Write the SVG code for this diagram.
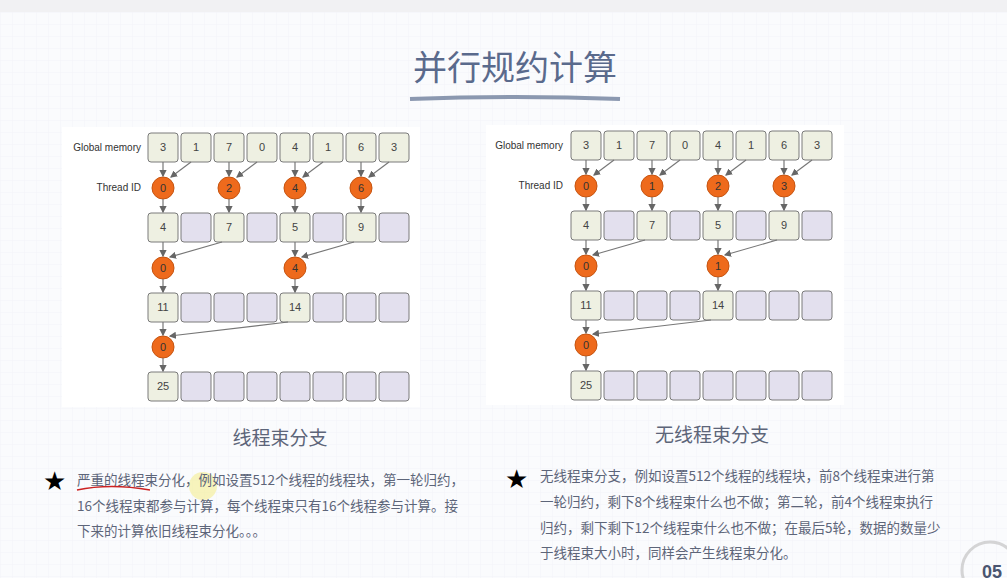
<svg xmlns="http://www.w3.org/2000/svg" width="1007" height="578" viewBox="0 0 1007 578">
<style>
.f{fill:#eef0e2;stroke:#7a7a7a;stroke-width:1}
.e{fill:#e3e0ee;stroke:#7a7a7a;stroke-width:1}
.n{font-family:"Liberation Sans",sans-serif;font-size:11px;fill:#444;text-anchor:middle}
.c{fill:#ee6a1c;stroke:#c65410;stroke-width:1}
.cn{font-family:"Liberation Sans",sans-serif;font-size:11px;fill:#333;text-anchor:middle}
.lb{font-family:"Liberation Sans",sans-serif;font-size:10px;fill:#333;text-anchor:end}
.a{stroke:#777;stroke-width:1.2;fill:none;marker-end:url(#ar)}
.t{font-family:"Noto Sans CJK SC",sans-serif;fill:#5d6579}
</style>
<defs>
<marker id="ar" markerWidth="6" markerHeight="6" refX="5" refY="3" orient="auto"><path d="M0,0L6,3L0,6z" fill="#666"/></marker>
<pattern id="g" width="12" height="12" patternUnits="userSpaceOnUse"><path d="M12 0H0V12" fill="none" stroke="#eceef3" stroke-width="0.6"/></pattern>
</defs>
<rect width="1007" height="578" fill="#fafbfd"/>
<rect width="1007" height="578" fill="url(#g)"/>
<rect x="0" y="0" width="1007" height="12" fill="#f1f1f3"/>
<text x="515" y="80" class="t" font-size="34" text-anchor="middle" fill="#5a6a8c" style="fill:#5a6a8c">并行规约计算</text>
<path d="M410 99Q515 95 620 99" stroke="#6f7f9c" stroke-width="4" fill="none" opacity="0.8"/>
<rect x="62" y="127" width="358" height="280" fill="#fff"/>
<rect x="486" y="125" width="358" height="280" fill="#fff"/>
<g id="left">
<text x="141" y="151" class="lb">Global memory</text>
<text x="141" y="191" class="lb">Thread ID</text>
<g id="L-row0">
<rect x="148" y="133" width="30" height="29" rx="3" class="f"/><text x="163" y="151" class="n">3</text>
<rect x="181" y="133" width="30" height="29" rx="3" class="f"/><text x="196" y="151" class="n">1</text>
<rect x="214" y="133" width="30" height="29" rx="3" class="f"/><text x="229" y="151" class="n">7</text>
<rect x="247" y="133" width="30" height="29" rx="3" class="f"/><text x="262" y="151" class="n">0</text>
<rect x="280" y="133" width="30" height="29" rx="3" class="f"/><text x="295" y="151" class="n">4</text>
<rect x="313" y="133" width="30" height="29" rx="3" class="f"/><text x="328" y="151" class="n">1</text>
<rect x="346" y="133" width="30" height="29" rx="3" class="f"/><text x="361" y="151" class="n">6</text>
<rect x="379" y="133" width="30" height="29" rx="3" class="f"/><text x="394" y="151" class="n">3</text>
</g>
<g id="L-row1">
<rect x="148" y="213" width="30" height="29" rx="3" class="f"/><text x="163" y="231" class="n">4</text>
<rect x="181" y="213" width="30" height="29" rx="3" class="e"/>
<rect x="214" y="213" width="30" height="29" rx="3" class="f"/><text x="229" y="231" class="n">7</text>
<rect x="247" y="213" width="30" height="29" rx="3" class="e"/>
<rect x="280" y="213" width="30" height="29" rx="3" class="f"/><text x="295" y="231" class="n">5</text>
<rect x="313" y="213" width="30" height="29" rx="3" class="e"/>
<rect x="346" y="213" width="30" height="29" rx="3" class="f"/><text x="361" y="231" class="n">9</text>
<rect x="379" y="213" width="30" height="29" rx="3" class="e"/>
</g>
<g id="L-row2">
<rect x="148" y="293" width="30" height="29" rx="3" class="f"/><text x="163" y="311" class="n">11</text>
<rect x="181" y="293" width="30" height="29" rx="3" class="e"/>
<rect x="214" y="293" width="30" height="29" rx="3" class="e"/>
<rect x="247" y="293" width="30" height="29" rx="3" class="e"/>
<rect x="280" y="293" width="30" height="29" rx="3" class="f"/><text x="295" y="311" class="n">14</text>
<rect x="313" y="293" width="30" height="29" rx="3" class="e"/>
<rect x="346" y="293" width="30" height="29" rx="3" class="e"/>
<rect x="379" y="293" width="30" height="29" rx="3" class="e"/>
</g>
<g id="L-row3">
<rect x="148" y="372" width="30" height="29" rx="3" class="f"/><text x="163" y="390" class="n">25</text>
<rect x="181" y="372" width="30" height="29" rx="3" class="e"/>
<rect x="214" y="372" width="30" height="29" rx="3" class="e"/>
<rect x="247" y="372" width="30" height="29" rx="3" class="e"/>
<rect x="280" y="372" width="30" height="29" rx="3" class="e"/>
<rect x="313" y="372" width="30" height="29" rx="3" class="e"/>
<rect x="346" y="372" width="30" height="29" rx="3" class="e"/>
<rect x="379" y="372" width="30" height="29" rx="3" class="e"/>
</g>
<g id="L-threads">
<circle cx="163" cy="188" r="11" class="c"/><text x="163" y="192" class="cn">0</text>
<circle cx="229" cy="188" r="11" class="c"/><text x="229" y="192" class="cn">2</text>
<circle cx="295" cy="188" r="11" class="c"/><text x="295" y="192" class="cn">4</text>
<circle cx="361" cy="188" r="11" class="c"/><text x="361" y="192" class="cn">6</text>
<circle cx="163" cy="268" r="11" class="c"/><text x="163" y="272" class="cn">0</text>
<circle cx="295" cy="268" r="11" class="c"/><text x="295" y="272" class="cn">4</text>
<circle cx="163" cy="347" r="11" class="c"/><text x="163" y="351" class="cn">0</text>
</g>
</g>
<g id="left-connectors">
<path class="a" d="M163 162V176"/><path class="a" d="M191 162L171 177"/>
<path class="a" d="M229 162V176"/><path class="a" d="M257 162L237 177"/>
<path class="a" d="M295 162V176"/><path class="a" d="M323 162L303 177"/>
<path class="a" d="M361 162V176"/><path class="a" d="M389 162L369 177"/>
<path class="a" d="M163 199V212"/><path class="a" d="M229 199V212"/><path class="a" d="M295 199V212"/><path class="a" d="M361 199V212"/>
<path class="a" d="M163 242V256"/><path class="a" d="M222 242L170 257"/>
<path class="a" d="M295 242V256"/><path class="a" d="M354 242L302 257"/>
<path class="a" d="M163 279V292"/><path class="a" d="M295 279V292"/>
<path class="a" d="M163 322V335"/><path class="a" d="M288 322L170 336"/>
<path class="a" d="M163 358V371"/>
</g>
<g id="right">
<text x="563" y="149" class="lb">Global memory</text>
<text x="563" y="189" class="lb">Thread ID</text>
<g id="R-row0">
<rect x="571" y="131" width="30" height="29" rx="3" class="f"/><text x="586" y="149" class="n">3</text>
<rect x="604" y="131" width="30" height="29" rx="3" class="f"/><text x="619" y="149" class="n">1</text>
<rect x="637" y="131" width="30" height="29" rx="3" class="f"/><text x="652" y="149" class="n">7</text>
<rect x="670" y="131" width="30" height="29" rx="3" class="f"/><text x="685" y="149" class="n">0</text>
<rect x="703" y="131" width="30" height="29" rx="3" class="f"/><text x="718" y="149" class="n">4</text>
<rect x="736" y="131" width="30" height="29" rx="3" class="f"/><text x="751" y="149" class="n">1</text>
<rect x="769" y="131" width="30" height="29" rx="3" class="f"/><text x="784" y="149" class="n">6</text>
<rect x="802" y="131" width="30" height="29" rx="3" class="f"/><text x="817" y="149" class="n">3</text>
</g>
<g id="R-row1">
<rect x="571" y="211" width="30" height="29" rx="3" class="f"/><text x="586" y="229" class="n">4</text>
<rect x="604" y="211" width="30" height="29" rx="3" class="e"/>
<rect x="637" y="211" width="30" height="29" rx="3" class="f"/><text x="652" y="229" class="n">7</text>
<rect x="670" y="211" width="30" height="29" rx="3" class="e"/>
<rect x="703" y="211" width="30" height="29" rx="3" class="f"/><text x="718" y="229" class="n">5</text>
<rect x="736" y="211" width="30" height="29" rx="3" class="e"/>
<rect x="769" y="211" width="30" height="29" rx="3" class="f"/><text x="784" y="229" class="n">9</text>
<rect x="802" y="211" width="30" height="29" rx="3" class="e"/>
</g>
<g id="R-row2">
<rect x="571" y="291" width="30" height="29" rx="3" class="f"/><text x="586" y="309" class="n">11</text>
<rect x="604" y="291" width="30" height="29" rx="3" class="e"/>
<rect x="637" y="291" width="30" height="29" rx="3" class="e"/>
<rect x="670" y="291" width="30" height="29" rx="3" class="e"/>
<rect x="703" y="291" width="30" height="29" rx="3" class="f"/><text x="718" y="309" class="n">14</text>
<rect x="736" y="291" width="30" height="29" rx="3" class="e"/>
<rect x="769" y="291" width="30" height="29" rx="3" class="e"/>
<rect x="802" y="291" width="30" height="29" rx="3" class="e"/>
</g>
<g id="R-row3">
<rect x="571" y="371" width="30" height="29" rx="3" class="f"/><text x="586" y="389" class="n">25</text>
<rect x="604" y="371" width="30" height="29" rx="3" class="e"/>
<rect x="637" y="371" width="30" height="29" rx="3" class="e"/>
<rect x="670" y="371" width="30" height="29" rx="3" class="e"/>
<rect x="703" y="371" width="30" height="29" rx="3" class="e"/>
<rect x="736" y="371" width="30" height="29" rx="3" class="e"/>
<rect x="769" y="371" width="30" height="29" rx="3" class="e"/>
<rect x="802" y="371" width="30" height="29" rx="3" class="e"/>
</g>
<g id="R-threads">
<circle cx="586" cy="186" r="11" class="c"/><text x="586" y="190" class="cn">0</text>
<circle cx="652" cy="186" r="11" class="c"/><text x="652" y="190" class="cn">1</text>
<circle cx="718" cy="186" r="11" class="c"/><text x="718" y="190" class="cn">2</text>
<circle cx="784" cy="186" r="11" class="c"/><text x="784" y="190" class="cn">3</text>
<circle cx="586" cy="266" r="11" class="c"/><text x="586" y="270" class="cn">0</text>
<circle cx="718" cy="266" r="11" class="c"/><text x="718" y="270" class="cn">1</text>
<circle cx="586" cy="345" r="11" class="c"/><text x="586" y="349" class="cn">0</text>
</g>
</g>
<g id="right-connectors">
<path class="a" d="M586 160V174"/><path class="a" d="M614 160L594 175"/>
<path class="a" d="M652 160V174"/><path class="a" d="M680 160L660 175"/>
<path class="a" d="M718 160V174"/><path class="a" d="M746 160L726 175"/>
<path class="a" d="M784 160V174"/><path class="a" d="M812 160L792 175"/>
<path class="a" d="M586 197V210"/><path class="a" d="M652 197V210"/><path class="a" d="M718 197V210"/><path class="a" d="M784 197V210"/>
<path class="a" d="M586 240V254"/><path class="a" d="M645 240L593 255"/>
<path class="a" d="M718 240V254"/><path class="a" d="M777 240L725 255"/>
<path class="a" d="M586 277V290"/><path class="a" d="M718 277V290"/>
<path class="a" d="M586 320V333"/><path class="a" d="M711 320L593 334"/>
<path class="a" d="M586 356V370"/>
</g>
<text x="280" y="445" class="t" font-size="19" text-anchor="middle">线程束分支</text>
<text x="712" y="442" class="t" font-size="19" text-anchor="middle">无线程束分支</text>
<circle cx="203" cy="486" r="14" fill="#f5f0a0" opacity="0.7"/>
<text x="43" y="490" font-family="DejaVu Sans,sans-serif" font-size="26" fill="#000">★</text>
<g class="t" font-size="13.5">
<text x="77" y="485">严重的线程束分化，例如设置512个线程的线程块，第一轮归约，</text>
<text x="77" y="511">16个线程束都参与计算，每个线程束只有16个线程参与计算。接</text>
<text x="77" y="536">下来的计算依旧线程束分化。。。</text>
</g>
<path d="M77 490Q110 483 150 490" stroke="#cc2222" stroke-width="1.5" fill="none"/>
<text x="505" y="488" font-family="DejaVu Sans,sans-serif" font-size="26" fill="#000">★</text>
<g class="t" font-size="13.5">
<text x="540" y="481">无线程束分支，例如设置512个线程的线程块，前8个线程束进行第</text>
<text x="540" y="507">一轮归约，剩下8个线程束什么也不做；第二轮，前4个线程束执行</text>
<text x="540" y="533">归约，剩下剩下12个线程束什么也不做；在最后5轮，数据的数量少</text>
<text x="540" y="558">于线程束大小时，同样会产生线程束分化。</text>
</g>
<circle cx="990" cy="570" r="28" fill="none" stroke="#bbb" stroke-width="3" opacity="0.6"/>
<text x="982" y="578" font-family="Liberation Sans,sans-serif" font-weight="bold" font-size="18" fill="#4a5570">05</text>
</svg>
